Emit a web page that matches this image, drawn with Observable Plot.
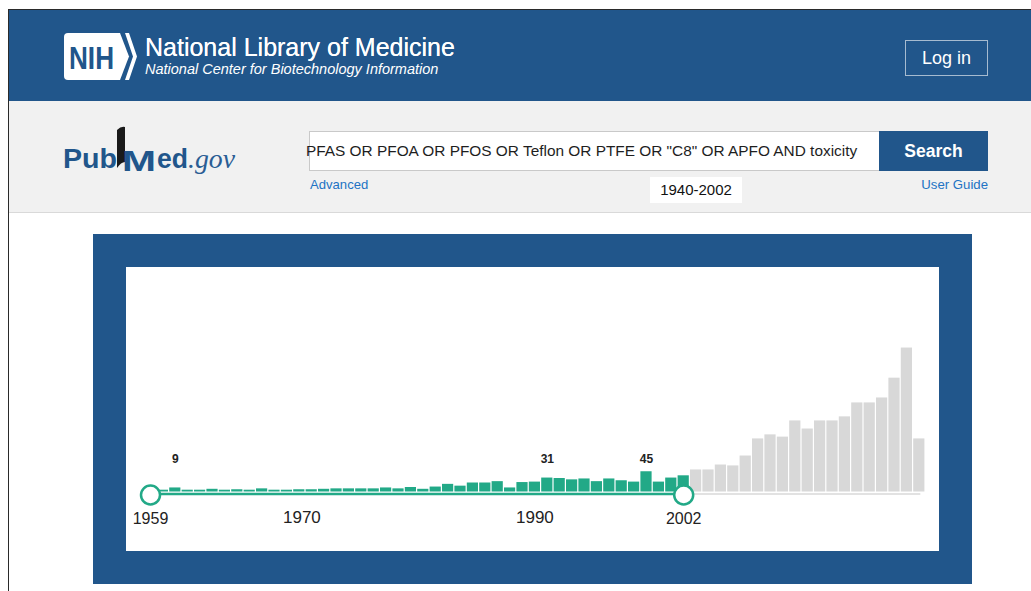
<!DOCTYPE html>
<html>
<head>
<meta charset="utf-8">
<script src="https://cdn.jsdelivr.net/npm/d3@7"></script>
<script src="https://cdn.jsdelivr.net/npm/@observablehq/plot@0.6"></script>
<style>
  html, body { margin: 0; padding: 0; background: #fff; }
  body { width: 1031px; height: 591px; position: relative; overflow: hidden; font-family: "Liberation Sans", Arial, Helvetica, sans-serif; }
  .abs { position: absolute; }
  #topline { left: 8px; top: 9px; right: 0; height: 1px; background: #2a2a2a; }
  #leftline { left: 8px; top: 9px; width: 1px; bottom: 0; background: #2a2a2a; }
  #header { left: 9px; top: 10px; right: 0; height: 91px; background: #21568b; }
  #band { left: 9px; top: 101px; right: 0; height: 111px; background: #f1f1f1; border-bottom: 1px solid #d9d9d9; }
  #nlm1 { left: 145px; top: 33px; color: #fff; font-size: 25px; line-height: 28px; white-space: nowrap; text-shadow: 0 0 0.4px #fff; }
  #nlm2 { left: 145px; top: 61px; color: #fff; font-size: 14.5px; font-style: italic; line-height: 17px; white-space: nowrap; }
  #login { left: 905px; top: 40px; width: 81px; height: 34px; border: 1px solid rgba(255,255,255,0.6); color: #fff; font-size: 18px; line-height: 34px; text-align: center; }
  #search { left: 309px; top: 131px; width: 570px; height: 38px; background: #fff; border: 1px solid #c9c9c9; border-right: none; }
  #query { left: 306px; top: 142px; font-size: 15.4px; line-height: 18px; color: #1e1e1e; white-space: nowrap; }
  #btn { left: 879px; top: 131px; width: 109px; height: 40px; background: #21568b; color: #fff; font-weight: bold; font-size: 17.5px; line-height: 40px; text-align: center; }
  #adv { left: 310px; top: 177px; font-size: 13.1px; line-height: 16px; color: #2173c4; }
  #guide { right: 43px; top: 177px; font-size: 13.2px; line-height: 16px; color: #2173c4; }
  #range { left: 650px; top: 177px; width: 92px; height: 26px; background: #fff; color: #111; font-size: 15px; line-height: 26px; text-align: center; }
  #frame { left: 93px; top: 234px; width: 879px; height: 350px; background: #21568b; }
  #chart { left: 126px; top: 267px; width: 813px; height: 284px; }
</style>
</head>
<body>
<div class="abs" id="header"></div>
<div class="abs" id="band"></div>
<div class="abs" id="topline"></div>
<div class="abs" id="leftline"></div>

<svg class="abs" style="left:64px;top:33px" width="76" height="47" viewBox="0 0 76 47">
  <path d="M4,0 H56 L65,23.5 L56,47 H4 Q0,47 0,43 V4 Q0,0 4,0 Z" fill="#fff"/>
  <path d="M61,0 H65 L73,23.5 L65,47 H61 L69,23.5 Z" fill="#fff"/>
  <text x="5" y="36" font-family="Liberation Sans, Arial, sans-serif" font-weight="bold" font-size="31" fill="#21568b" textLength="45" lengthAdjust="spacingAndGlyphs">NIH</text>
</svg>
<div class="abs" id="nlm1">National Library of Medicine</div>
<div class="abs" id="nlm2">National Center for Biotechnology Information</div>
<div class="abs" id="login">Log in</div>

<svg class="abs" style="left:60px;top:120px" width="180" height="60" viewBox="0 0 180 60">
  <text x="3" y="48" font-family="Liberation Sans, Arial, sans-serif" font-weight="bold" font-size="27" fill="#21568b" textLength="54" lengthAdjust="spacingAndGlyphs">Pub</text>
  <path d="M57,10 Q61,6 65,7 L65,42 Q61,42 57,48 Z" fill="#1a1a1a"/>
  <text x="62" y="51" font-family="Liberation Sans, Arial, sans-serif" font-weight="bold" font-size="30" fill="#21568b" textLength="34" lengthAdjust="spacingAndGlyphs">M</text>
  <text x="97" y="48" font-family="Liberation Sans, Arial, sans-serif" font-weight="bold" font-size="27" fill="#21568b" textLength="31" lengthAdjust="spacingAndGlyphs">ed</text>
  <text x="128" y="48" font-family="Liberation Serif, Times New Roman, serif" font-style="italic" font-size="27" fill="#2a5d94" textLength="47" lengthAdjust="spacingAndGlyphs">.gov</text>
</svg>

<div class="abs" id="search"></div>
<div class="abs" id="query">PFAS OR PFOA OR PFOS OR Teflon OR PTFE OR "C8" OR APFO AND toxicity</div>
<div class="abs" id="btn">Search</div>
<div class="abs" id="adv">Advanced</div>
<div class="abs" id="guide">User Guide</div>
<div class="abs" id="range">1940-2002</div>

<div class="abs" id="frame"></div>
<div class="abs" id="chart"></div>

<script>
// Publication years shown on the timeline
const years = [1959, 1960, 1961, 1962, 1963, 1964, 1965, 1966, 1967, 1968, 1969,
  1970, 1971, 1972, 1973, 1974, 1975, 1976, 1977, 1978, 1979,
  1980, 1981, 1982, 1983, 1984, 1985, 1986, 1987, 1988, 1989,
  1990, 1991, 1992, 1993, 1994, 1995, 1996, 1997, 1998, 1999,
  2000, 2001, 2002, 2003, 2004, 2005, 2006, 2007, 2008, 2009,
  2010, 2011, 2012, 2013, 2014, 2015, 2016, 2017, 2018, 2019,
  2020, 2021];
// Results per year
const counts = [5, 4, 9, 4, 4, 6, 4, 5, 4, 7, 4,
  4, 5, 5, 6, 7, 7, 7, 7, 9, 7,
  10, 6, 11, 17, 13, 20, 20, 23, 9, 21,
  22, 31, 30, 27, 29, 23, 29, 25, 22, 45,
  22, 31, 36, 49, 49, 60, 58, 80, 118, 127,
  122, 158, 140, 158, 158, 167, 198, 198, 209, 253,
  320, 118];
// Selected range (slider handles)
const rangeStart = 1959;
const rangeEnd = 2002;
// Axis labels
const endYears = [1959, 2002];
const midYears = [1990];
const shiftedYears = [1970];
// Count labels over peaks
const peakYears = [1961, 1991, 1999];
const peakCounts = [9, 31, 45];

const green = "#22a987";
const grey = "#d8d8d8";

const data = years.map((y, i) => ({year: y, count: counts[i]}));
const sel = data.filter(d => d.year >= rangeStart && d.year <= rangeEnd);
const rest = data.filter(d => d.year > rangeEnd);
const peaks = peakYears.map((y, i) => ({year: y, n: peakCounts[i]}));

const chart = Plot.plot({
  width: 813,
  height: 284,
  marginLeft: 17.8,
  marginRight: 14,
  marginTop: 0,
  marginBottom: 59.5,
  x: {type: "band", domain: years, padding: 0, round: false, axis: null},
  y: {domain: [0, 499], axis: null},
  style: {background: "white", fontFamily: "Liberation Sans, Arial, sans-serif", color: "#222", overflow: "visible"},
  marks: [
    Plot.barY(rest, {x: "year", y: "count", fill: grey, insetLeft: 0.6, insetRight: 0.6}),
    Plot.barY(sel, {x: "year", y: "count", fill: green, insetLeft: 0.6, insetRight: 0.6}),
    Plot.link([{a: rangeEnd, b: years[years.length - 1]}], {x1: "a", x2: "b", y1: () => 0, y2: () => 0, stroke: "#e2e2e2", strokeWidth: 2, dy: 2, strokeLinecap: "square"}),
    Plot.link([{a: rangeStart, b: rangeEnd}], {x1: "a", x2: "b", y1: () => 0, y2: () => 0, stroke: green, strokeWidth: 2.5, dy: 2}),
    Plot.dot([rangeStart, rangeEnd], {x: d => d, y: () => 0, r: 9.5, fill: "white", stroke: green, strokeWidth: 2.5, dy: 3}),
    Plot.text(endYears, {x: d => d, y: () => 0, text: d => String(d), fontSize: 16, fill: "#222", dy: 27}),
    Plot.text(midYears, {x: d => d, y: () => 0, text: d => String(d), fontSize: 17, fill: "#222", dy: 25.5}),
    Plot.text(shiftedYears, {x: d => d, y: () => 0, text: d => String(d), fontSize: 17, fill: "#222", dy: 25.5, dx: 15}),
    Plot.text(peaks, {x: "year", frameAnchor: "top", dy: 187, text: d => String(d.n), fontSize: 12, fontWeight: 600, fill: "#222"})
  ]
});
document.getElementById("chart").appendChild(chart);
</script>
</body>
</html>
